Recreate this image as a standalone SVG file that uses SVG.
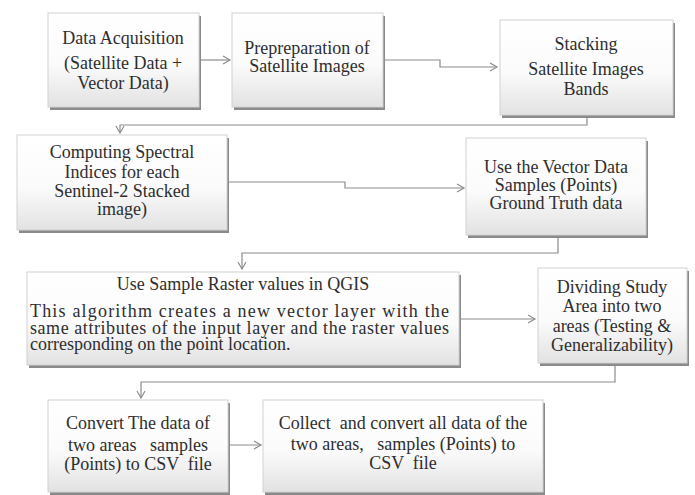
<svg xmlns="http://www.w3.org/2000/svg" width="695" height="495" viewBox="0 0 695 495">
<defs>
<linearGradient id="g" x1="0" y1="0" x2="0" y2="1">
<stop offset="0" stop-color="#ffffff"/>
<stop offset="0.55" stop-color="#fbfbfb"/>
<stop offset="1" stop-color="#e2e2e2"/>
</linearGradient>
<marker id="a" markerWidth="10" markerHeight="10" refX="8" refY="5" orient="auto" markerUnits="userSpaceOnUse">
<path d="M1,1 L8,5 L1,9" fill="none" stroke="#8c8c8c" stroke-width="1.2"/>
</marker>
</defs>
<g id="connectors" fill="none" stroke="#8c8c8c" stroke-width="1.2" marker-end="url(#a)">
<path d="M200,60 H230"/>
<path d="M384,60 H440 V67 H497"/>
<path d="M587,115 V125 H120 V133"/>
<path d="M227,182 H345 V188 H464"/>
<path d="M558,235 V253 H242 V269"/>
<path d="M460,319 H535"/>
<path d="M615,363 V382 H141 V398"/>
<path d="M228,445 H261"/>
</g>
<g id="n1">
<rect fill="#8a8a8a" x="50" y="16" width="151" height="94"/>
<rect fill="url(#g)" stroke="#d2d2d2" x="48" y="13" width="151" height="94"/>
<text font-family="Liberation Serif" font-size="18" fill="#2e2e2e" text-anchor="middle" x="123" y="44">Data Acquisition</text>
<text font-family="Liberation Serif" font-size="18" fill="#2e2e2e" text-anchor="middle" x="123" y="69">(Satellite Data +</text>
<text font-family="Liberation Serif" font-size="18" fill="#2e2e2e" text-anchor="middle" x="123" y="89">Vector Data)</text>
</g>
<g id="n2">
<rect fill="#8a8a8a" x="234" y="16" width="151" height="94"/>
<rect fill="url(#g)" stroke="#d2d2d2" x="232" y="13" width="151" height="94"/>
<text font-family="Liberation Serif" font-size="18" fill="#2e2e2e" text-anchor="middle" x="307" y="54">Prepreparation of</text>
<text font-family="Liberation Serif" font-size="18" fill="#2e2e2e" text-anchor="middle" x="307" y="72">Satellite Images</text>
</g>
<g id="n3">
<rect fill="#8a8a8a" x="502" y="23" width="173" height="95"/>
<rect fill="url(#g)" stroke="#d2d2d2" x="500" y="20" width="173" height="95"/>
<text font-family="Liberation Serif" font-size="18" fill="#2e2e2e" text-anchor="middle" x="586" y="50">Stacking</text>
<text font-family="Liberation Serif" font-size="18" fill="#2e2e2e" text-anchor="middle" x="586" y="75">Satellite Images</text>
<text font-family="Liberation Serif" font-size="18" fill="#2e2e2e" text-anchor="middle" x="586" y="95">Bands</text>
</g>
<g id="n4">
<rect fill="#8a8a8a" x="19" y="138" width="210" height="95"/>
<rect fill="url(#g)" stroke="#d2d2d2" x="17" y="135" width="210" height="95"/>
<text font-family="Liberation Serif" font-size="18" fill="#2e2e2e" text-anchor="middle" x="122" y="158">Computing Spectral</text>
<text font-family="Liberation Serif" font-size="18" fill="#2e2e2e" text-anchor="middle" x="122" y="178">Indices for each</text>
<text font-family="Liberation Serif" font-size="18" fill="#2e2e2e" text-anchor="middle" x="122" y="197">Sentinel-2 Stacked</text>
<text font-family="Liberation Serif" font-size="18" fill="#2e2e2e" text-anchor="middle" x="122" y="215">image)</text>
</g>
<g id="n5">
<rect fill="#8a8a8a" x="468" y="141" width="180" height="97"/>
<rect fill="url(#g)" stroke="#d2d2d2" x="466" y="138" width="180" height="97"/>
<text font-family="Liberation Serif" font-size="18" fill="#2e2e2e" text-anchor="middle" x="556" y="173">Use the Vector Data</text>
<text font-family="Liberation Serif" font-size="18" fill="#2e2e2e" text-anchor="middle" x="556" y="191">Samples (Points)</text>
<text font-family="Liberation Serif" font-size="18" fill="#2e2e2e" text-anchor="middle" x="556" y="209">Ground Truth data</text>
</g>
<g id="n6">
<rect fill="#8a8a8a" x="29" y="275" width="432" height="93"/>
<rect fill="url(#g)" stroke="#d2d2d2" x="27" y="272" width="432" height="93"/>
<text font-family="Liberation Serif" font-size="18" fill="#2e2e2e" text-anchor="middle" x="243" y="290">Use Sample Raster values in QGIS</text>
<text font-family="Liberation Serif" font-size="18" fill="#2e2e2e" x="30" y="317" textLength="419" lengthAdjust="spacing">This algorithm creates a new vector layer with the</text>
<text font-family="Liberation Serif" font-size="18" fill="#2e2e2e" x="30" y="334" textLength="419" lengthAdjust="spacing">same attributes of the input layer and the raster values</text>
<text font-family="Liberation Serif" font-size="18" fill="#2e2e2e" x="30" y="350">corresponding on the point location.</text>
</g>
<g id="n7">
<rect fill="#8a8a8a" x="540" y="271" width="149" height="95"/>
<rect fill="url(#g)" stroke="#d2d2d2" x="538" y="268" width="149" height="95"/>
<text font-family="Liberation Serif" font-size="18" fill="#2e2e2e" text-anchor="middle" x="612" y="293">Dividing Study</text>
<text font-family="Liberation Serif" font-size="18" fill="#2e2e2e" text-anchor="middle" x="612" y="312">Area into two</text>
<text font-family="Liberation Serif" font-size="18" fill="#2e2e2e" text-anchor="middle" x="612" y="332">areas (Testing &amp;</text>
<text font-family="Liberation Serif" font-size="18" fill="#2e2e2e" text-anchor="middle" x="612" y="351">Generalizability)</text>
</g>
<g id="n8">
<rect fill="#8a8a8a" x="50" y="403" width="180" height="92"/>
<rect fill="url(#g)" stroke="#d2d2d2" x="48" y="400" width="180" height="92"/>
<text font-family="Liberation Serif" font-size="18" fill="#2e2e2e" text-anchor="middle" x="138" y="429">Convert The data of</text>
<text font-family="Liberation Serif" font-size="18" fill="#2e2e2e" text-anchor="middle" x="138" y="451" xml:space="preserve">two areas   samples</text>
<text font-family="Liberation Serif" font-size="18" fill="#2e2e2e" text-anchor="middle" x="138" y="470" xml:space="preserve">(Points) to CSV  file</text>
</g>
<g id="n9">
<rect fill="#8a8a8a" x="265" y="403" width="280" height="92"/>
<rect fill="url(#g)" stroke="#d2d2d2" x="263" y="400" width="280" height="92"/>
<text font-family="Liberation Serif" font-size="18" fill="#2e2e2e" text-anchor="middle" x="403" y="429" xml:space="preserve">Collect  and convert all data of the</text>
<text font-family="Liberation Serif" font-size="18" fill="#2e2e2e" text-anchor="middle" x="403" y="450" xml:space="preserve">two areas,   samples (Points) to</text>
<text font-family="Liberation Serif" font-size="18" fill="#2e2e2e" text-anchor="middle" x="403" y="469" xml:space="preserve">CSV  file</text>
</g>
</svg>
